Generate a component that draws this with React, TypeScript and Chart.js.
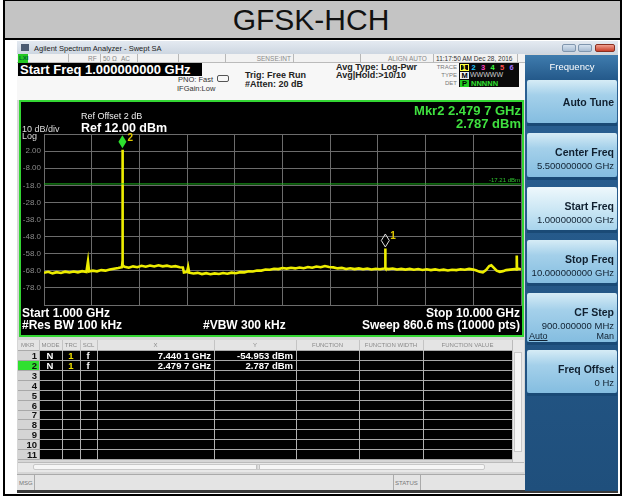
import React, { useEffect, useRef } from 'react';
import { Chart, registerables } from 'chart.js';
Chart.register(...registerables);

const FONT = '"Liberation Sans", Arial, sans-serif';

// ---------- data ----------
const FREQ_GRID_GHZ = [1, 1.9, 2.8, 3.7, 4.6, 5.5, 6.4, 7.3, 8.2, 9.1, 10];
const LEVEL_GRID_DBM = [12, 2, -8, -18, -28, -38, -48, -58, -68, -78, -88];

const TRACE_FREQ_GHZ = [
  1.0, 1.08, 1.16, 1.24, 1.32, 1.4, 1.48, 1.56, 1.64, 1.72, 1.8, 1.83, 1.85, 1.92, 2.0, 2.08, 2.16, 2.24, 2.32, 2.4,
  2.47, 2.478, 2.4797, 2.481, 2.49, 2.52, 2.6, 2.68, 2.76, 2.84, 2.92, 3.0, 3.08, 3.16, 3.24, 3.32, 3.4, 3.48, 3.56,
  3.62, 3.64, 3.7, 3.72, 3.74, 3.82, 3.9, 3.98, 4.06, 4.14, 4.22, 4.3, 4.38, 4.46, 4.54, 4.62, 4.7, 4.78, 4.86, 4.94,
  5.02, 5.1, 5.18, 5.26, 5.34, 5.42, 5.5, 5.58, 5.66, 5.74, 5.82, 5.9, 5.98, 6.06, 6.14, 6.22, 6.3, 6.38, 6.46, 6.54,
  6.62, 6.7, 6.78, 6.86, 6.94, 7.02, 7.1, 7.18, 7.26, 7.34, 7.42, 7.438, 7.4401, 7.442, 7.5, 7.58, 7.66, 7.74, 7.82,
  7.9, 7.98, 8.06, 8.14, 8.22, 8.3, 8.38, 8.46, 8.54, 8.62, 8.7, 8.78, 8.86, 8.94, 9.02, 9.1, 9.16, 9.22, 9.28, 9.34,
  9.4, 9.44, 9.48, 9.54, 9.6, 9.66, 9.72, 9.8, 9.88, 9.915, 9.92, 9.925, 9.96, 10.0,
];
const TRACE_LEVEL_DBM = [
  -69.2, -68.6, -69.5, -68.8, -69.3, -68.5, -69.0, -68.4, -68.9, -68.2, -68.7, -62.5, -68.4, -67.9, -68.3, -67.6, -67.9, -67.2, -66.8, -66.4,
  -65.9, -63.5, 2.787, -62.0, -64.8, -65.6, -66.2, -65.4, -65.9, -65.1, -65.6, -64.9, -65.5, -64.8, -65.4, -65.0, -65.6, -65.3, -65.9,
  -66.1, -69.0, -68.6, -65.8, -69.1, -69.6, -69.2, -69.9, -69.4, -70.0, -69.5, -69.9, -69.3, -69.7, -69.1, -69.4, -68.8, -68.9, -68.3, -68.4,
  -67.8, -67.9, -67.3, -67.4, -66.8, -67.0, -66.4, -66.7, -66.2, -66.6, -66.1, -66.5, -65.8, -66.2, -65.5, -65.9, -65.2, -65.8, -66.0, -66.6,
  -66.3, -66.9, -66.5, -67.0, -66.6, -67.1, -66.7, -67.2, -66.8, -67.1, -66.7, -66.5, -54.953, -66.6, -67.0, -66.7, -67.2, -66.9, -67.3,
  -66.9, -67.4, -67.0, -67.5, -67.1, -67.6, -67.2, -67.7, -67.3, -67.8, -67.4, -67.6, -67.1, -67.4, -66.9, -67.3, -67.8, -68.6, -68.9, -67.5,
  -65.2, -64.8, -66.0, -67.9, -68.6, -68.2, -67.6, -67.3, -67.0, -67.2, -59.0, -67.1, -66.8, -67.1,
];

const DISPLAY_LINE_DBM = -17.21;
const MARKER_IDS = ['1', '2'];
const MARKER_FREQ_GHZ = [7.4401, 2.4797];
const MARKER_LEVEL_DBM = [-54.953, 2.787];
const MARKER_X_TEXT = ['7.440 1 GHz', '2.479 7 GHz'];
const MARKER_Y_TEXT = ['-54.953 dBm', '2.787 dBm'];
const TABLE_ROWS = ['1', '2', '3', '4', '5', '6', '7', '8', '9', '10', '11'];
const TABLE_HEADERS = ['MKR', 'MODE', 'TRC', 'SCL', 'X', 'Y', 'FUNCTION', 'FUNCTION WIDTH', 'FUNCTION VALUE'];

const SOFTKEY_LABELS = ['Auto Tune', 'Center Freq', 'Start Freq', 'Stop Freq', 'CF Step', 'Freq Offset'];
const SOFTKEY_VALUES = ['', '5.500000000 GHz', '1.000000000 GHz', '10.000000000 GHz', '900.000000 MHz', '0 Hz'];

// ---------- layout helpers ----------
const W = 623;
type TP = { x: number; y: number; s: number; c?: string; w?: number; a?: 'left' | 'right' | 'center'; children?: any; st?: any };
const Txt = ({ x, y, s, c = '#000', w = 400, a = 'left', children, st }: TP) => {
  const h = Math.ceil(s * 1.4);
  const style: any = {
    position: 'absolute', top: y - h / 2, height: h, lineHeight: h + 'px', fontSize: s, fontFamily: FONT,
    fontWeight: w, color: c, whiteSpace: 'nowrap', ...st,
  };
  if (a === 'left') style.left = x;
  else if (a === 'right') style.right = W - x;
  else { style.left = x; style.transform = 'translateX(-50%)'; }
  return <div style={style}>{children}</div>;
};
const Box = ({ x, y, w, h, bg, st }: { x: number; y: number; w: number; h: number; bg?: string; st?: any }) => (
  <div style={{ position: 'absolute', left: x, top: y, width: w, height: h, background: bg, boxSizing: 'border-box', ...st }} />
);

const markerPlugin = {
  id: 'saMarkers',
  afterDatasetsDraw(chart: any) {
    const { ctx, chartArea } = chart;
    const xs = chart.scales.x, ys = chart.scales.y;
    ctx.save();
    const dy = ys.getPixelForValue(DISPLAY_LINE_DBM);
    ctx.font = `6px ${FONT}`;
    ctx.fillStyle = '#2fc22f';
    ctx.textAlign = 'right';
    ctx.textBaseline = 'bottom';
    ctx.fillText('-17.21 dBm', chartArea.right - 1, dy - 1);
    MARKER_FREQ_GHZ.forEach((f, i) => {
      const px = xs.getPixelForValue(f);
      const py = ys.getPixelForValue(MARKER_LEVEL_DBM[i]);
      const cy = py - 8;
      ctx.beginPath();
      ctx.moveTo(px, cy - 6.5);
      ctx.lineTo(px + 4, cy);
      ctx.lineTo(px, cy + 6.5);
      ctx.lineTo(px - 4, cy);
      ctx.closePath();
      if (i === 1) {
        ctx.fillStyle = '#2ee02e';
        ctx.fill();
      } else {
        ctx.strokeStyle = '#e0e0e0';
        ctx.lineWidth = 1;
        ctx.stroke();
      }
      ctx.font = `bold 10px ${FONT}`;
      ctx.fillStyle = '#e0c800';
      ctx.textAlign = 'left';
      ctx.textBaseline = 'middle';
      ctx.fillText(MARKER_IDS[i], px + 5, cy - 4);
    });
    ctx.restore();
  },
};

export default function App() {
  const ref = useRef<HTMLCanvasElement>(null);
  useEffect(() => {
    const trace = TRACE_FREQ_GHZ.map((f, i) => ({ x: f, y: TRACE_LEVEL_DBM[i] }));
    const dl = [
      { x: FREQ_GRID_GHZ[0], y: DISPLAY_LINE_DBM },
      { x: FREQ_GRID_GHZ[FREQ_GRID_GHZ.length - 1], y: DISPLAY_LINE_DBM },
    ];
    const grid = '#6c6c6c';
    const chart = new Chart(ref.current as HTMLCanvasElement, {
      type: 'line',
      data: {
        datasets: [
          { data: dl, borderColor: '#1fb81f', borderWidth: 1, pointRadius: 0, tension: 0 },
          { data: trace, borderColor: '#eded00', borderWidth: 2.6, pointRadius: 0, tension: 0 },
        ],
      },
      options: {
        animation: false,
        responsive: false,
        maintainAspectRatio: false,
        events: [],
        layout: { padding: { top: 32, bottom: 30, left: 0, right: 1 } },
        plugins: { legend: { display: false }, tooltip: { enabled: false }, title: { display: false } },
        scales: {
          x: {
            type: 'linear',
            min: FREQ_GRID_GHZ[0],
            max: FREQ_GRID_GHZ[FREQ_GRID_GHZ.length - 1],
            afterBuildTicks: (axis: any) => { axis.ticks = FREQ_GRID_GHZ.map((v) => ({ value: v })); },
            afterFit: (axis: any) => { axis.height = 0; },
            ticks: { display: false },
            grid: { color: grid, drawTicks: false },
            border: { color: grid },
          },
          y: {
            type: 'linear',
            min: LEVEL_GRID_DBM[LEVEL_GRID_DBM.length - 1],
            max: LEVEL_GRID_DBM[0],
            afterBuildTicks: (axis: any) => { axis.ticks = LEVEL_GRID_DBM.slice().reverse().map((v) => ({ value: v })); },
            afterFit: (axis: any) => { axis.width = 23; },
            ticks: {
              padding: 3,
              color: '#8a8a8a',
              font: { size: 8, family: FONT },
              callback: (v: any) => {
                const n = Number(v);
                if (n === LEVEL_GRID_DBM[0] || n === LEVEL_GRID_DBM[LEVEL_GRID_DBM.length - 1]) return '';
                return Math.abs(n) < 10 ? n.toFixed(2) : n.toFixed(1);
              },
            },
            grid: { color: grid, drawTicks: false },
            border: { color: grid },
          },
        },
      },
      plugins: [markerPlugin],
    } as any);
    return () => chart.destroy();
  }, []);

  const colX = [18, 39, 62, 80, 97, 214, 296, 359, 423, 512];
  const rowTop = 351;
  const rowH = 9.92;

  const keyTops = [80, 133, 187, 240, 293, 350];
  const keyH = [43, 44, 43, 43, 49, 43];

  return (
    <div style={{ position: 'absolute', left: 0, top: 0, width: W, height: 496, overflow: 'hidden', background: '#fff', fontFamily: FONT }}>
      {/* outer frame + title */}
      <Box x={3} y={0} w={619} h={38} bg="#c4c4c4" />
      <Box x={3} y={0} w={619} h={496} st={{ borderLeft: '2px solid #000', borderRight: '2px solid #000', borderBottom: '2px solid #000', borderTop: '1px solid #000' }} />
      <Box x={3} y={38} w={619} h={2} bg="#000" />
      <Txt x={311} y={20} s={30} a="center" c="#111">GFSK-HCH</Txt>

      {/* analyzer screenshot */}
      <Box x={17} y={41} w={601} h={452} bg="#d6d6d6" />
      <Box x={17} y={41} w={601} h={13} bg="linear-gradient(#e4eaf1,#cdd6e1)" />
      <Box x={21} y={44} w={8} h={7} bg="#4a5a70" />
      <Txt x={34} y={48} s={7.5} c="#222">Agilent Spectrum Analyzer - Swept SA</Txt>
      <Box x={562} y={44} w={14} h={8} bg="linear-gradient(#d6e2ef,#a9bdd3)" st={{ border: '1px solid #8096ae', borderRadius: 2 }} />
      <Box x={578} y={44} w={14} h={8} bg="linear-gradient(#d6e2ef,#a9bdd3)" st={{ border: '1px solid #8096ae', borderRadius: 2 }} />
      <Box x={595} y={44} w={20} h={8} bg="linear-gradient(#f0a090,#c9402a)" st={{ border: '1px solid #8a3020', borderRadius: 2 }} />

      {/* status row */}
      <Box x={17} y={54} w={508} h={9} bg="#f2f2f2" st={{ borderBottom: '1px solid #bbb' }} />
      <Box x={18} y={54} w={10} h={9} bg="#22c822" />
      <Txt x={19} y={58.5} s={6} c="#063" w={700}>LXI</Txt>
      {[68, 100, 137, 178, 225, 293, 360, 433, 517].map((x) => <Box key={x} x={x} y={54} w={1} h={9} bg="#b8b8b8" />)}
      <Txt x={88} y={58.5} s={6.5} c="#8a8a8a">RF</Txt>
      <Txt x={103} y={58.5} s={6.5} c="#8a8a8a">50 Ω</Txt>
      <Txt x={121} y={58.5} s={6.5} c="#8a8a8a">AC</Txt>
      <Txt x={291} y={58.5} s={6.5} c="#8a8a8a" a="right">SENSE:INT</Txt>
      <Txt x={388} y={58.5} s={6.5} c="#8a8a8a">ALIGN AUTO</Txt>
      <Txt x={436} y={58.5} s={6.5} c="#333">11:17:50 AM Dec 28, 2016</Txt>

      {/* settings area */}
      <Box x={17} y={63} w={508} h={37} bg="#f7f7f7" />
      <Box x={18} y={63} w={184} h={13} bg="#000" />
      <Txt x={20} y={69.5} s={13} w={700} c="#fff">Start Freq 1.000000000 GHz</Txt>
      <Txt x={213} y={79} s={7.5} c="#333" a="right">PNO: Fast</Txt>
      <Box x={217} y={75} w={12} h={7} st={{ border: '1px solid #555', borderRadius: 2 }} />
      <Txt x={177} y={88} s={7.5} c="#333">IFGain:Low</Txt>
      <Txt x={245} y={75} s={9} w={700} c="#222">Trig: Free Run</Txt>
      <Txt x={245} y={84.5} s={9} w={700} c="#222">#Atten: 20 dB</Txt>
      <Txt x={336} y={67} s={9} w={700} c="#222">Avg Type: Log-Pwr</Txt>
      <Txt x={336} y={75.5} s={9} w={700} c="#222">Avg|Hold:&gt;10/10</Txt>
      <Txt x={457} y={67} s={6} c="#777" a="right">TRACE</Txt>
      <Txt x={457} y={75} s={6} c="#777" a="right">TYPE</Txt>
      <Txt x={457} y={83} s={6} c="#777" a="right">DET</Txt>
      <Box x={459} y={63} w={60} h={24} bg="#0a0a0a" />
      <Box x={460} y={63.5} w={9} h={7.5} st={{ border: '1px solid #ffff40' }} />
      {['1', '2', '3', '4', '5', '6'].map((d, i) => (
        <Txt key={d} x={462 + i * 9.5} y={67.3} s={7.5} w={700} c={['#ffff30', '#20c8ff', '#ff40c0', '#40ff40', '#ff5050', '#a070ff'][i]}>{d}</Txt>
      ))}
      <Box x={460} y={71.5} w={9} h={7.5} bg="#eee" />
      <Txt x={461.5} y={75.3} s={7.5} w={700} c="#000">M</Txt>
      <Txt x={470} y={75.3} s={7} c="#ccc">WWWWW</Txt>
      <Box x={460} y={79.5} w={9} h={7.5} bg="#22cc22" />
      <Txt x={462} y={83.3} s={7.5} w={700} c="#000">P</Txt>
      <Txt x={471} y={83.3} s={7.5} w={700} c="#30e030">NNNNN</Txt>

      {/* trace window */}
      <Box x={19} y={100} w={505} h={237} bg="#000" st={{ border: '2px solid #33d633' }} />
      <canvas ref={ref} width={501} height={233} style={{ position: 'absolute', left: 21, top: 102, width: 501, height: 233 }} />
      <Txt x={81} y={116} s={9} c="#eee">Ref Offset 2 dB</Txt>
      <Txt x={22} y={129} s={9} c="#ddd">10 dB/div</Txt>
      <Txt x={81} y={127.5} s={12.5} w={700} c="#fff">Ref 12.00 dBm</Txt>
      <Txt x={22} y={136} s={9} c="#ddd">Log</Txt>
      <Txt x={521} y={110} s={13} w={700} c="#3fe03f" a="right">Mkr2 2.479 7 GHz</Txt>
      <Txt x={521} y={123} s={13} w={700} c="#3fe03f" a="right">2.787 dBm</Txt>
      <Txt x={22} y={313} s={12} w={700} c="#fff">Start 1.000 GHz</Txt>
      <Txt x={22} y={325.5} s={12} w={700} c="#fff">#Res BW 100 kHz</Txt>
      <Txt x={203} y={325.5} s={12} w={700} c="#fff">#VBW 300 kHz</Txt>
      <Txt x={520} y={313} s={12} w={700} c="#fff" a="right">Stop 10.000 GHz</Txt>
      <Txt x={520} y={325.5} s={12} w={700} c="#fff" a="right">Sweep  860.6 ms (10000 pts)</Txt>

      {/* marker table */}
      <Box x={18} y={340} w={506} h={11} bg="#e4e4e4" st={{ borderBottom: '1px solid #aaa' }} />
      {TABLE_HEADERS.map((t, i) => (
        <Txt key={t} x={i === 0 ? 21 : (colX[i] + colX[i + 1]) / 2} y={345.5} s={6} c="#8a8a8a" a={i === 0 ? 'left' : 'center'}>{t}</Txt>
      ))}
      {colX.slice(1, -1).map((x) => <Box key={'h' + x} x={x} y={340} w={1} h={11} bg="#c4c4c4" />)}
      <Box x={18} y={rowTop} w={21} h={rowH * 11} bg="#d4d4d4" />
      <Box x={39} y={rowTop} w={473} h={rowH * 11} bg="#000" />
      {TABLE_ROWS.map((r, i) => (
        <React.Fragment key={r}>
          {i === 1 && <Box x={18} y={rowTop + i * rowH} w={21} h={rowH} bg="#30e030" />}
          <Txt x={37} y={rowTop + i * rowH + rowH / 2} s={9.5} w={700} c="#111" a="right">{r}</Txt>
          <Box x={18} y={rowTop + (i + 1) * rowH - 1} w={494} h={1} bg="#a8a8a8" />
        </React.Fragment>
      ))}
      {colX.slice(1, -1).map((x) => <Box key={'v' + x} x={x} y={rowTop} w={1} h={rowH * 11} bg="#b0b0b0" />)}
      {MARKER_X_TEXT.map((t, i) => (
        <React.Fragment key={t}>
          <Txt x={50} y={rowTop + i * rowH + rowH / 2} s={9.5} w={700} c="#fff" a="center">N</Txt>
          <Txt x={71} y={rowTop + i * rowH + rowH / 2} s={9.5} w={700} c="#f0e000" a="center">{MARKER_IDS[0]}</Txt>
          <Txt x={88} y={rowTop + i * rowH + rowH / 2} s={9.5} w={700} c="#fff" a="center">f</Txt>
          <Txt x={211} y={rowTop + i * rowH + rowH / 2} s={9.5} w={700} c="#fff" a="right">{t}</Txt>
          <Txt x={293} y={rowTop + i * rowH + rowH / 2} s={9.5} w={700} c="#fff" a="right">{MARKER_Y_TEXT[i]}</Txt>
        </React.Fragment>
      ))}
      <Box x={512} y={340} w={12} h={122} bg="#e8e8e8" st={{ borderLeft: '1px solid #bbb' }} />
      <Box x={514} y={352} w={8} h={100} bg="#f6f6f6" st={{ border: '1px solid #c8c8c8' }} />
      <Box x={18} y={462} w={506} h={10} bg="#e8e8e8" st={{ borderTop: '1px solid #bbb' }} />
      <Box x={33} y={464} w={452} h={6} bg="#f6f6f6" st={{ border: '1px solid #c8c8c8', borderRadius: 2 }} />
      <Txt x={258} y={467} s={5} c="#888" a="center">III</Txt>

      {/* msg bar */}
      <Box x={17} y={474} w={601} h={17} bg="#e4e4e4" st={{ borderTop: '1px solid #aaa' }} />
      <Box x={34} y={475} w={1} h={15} bg="#aaa" />
      <Box x={393} y={475} w={1} h={15} bg="#aaa" />
      <Box x={420} y={475} w={1} h={15} bg="#aaa" />
      <Txt x={19} y={483} s={6} c="#777">MSG</Txt>
      <Txt x={395} y={483} s={6} c="#777">STATUS</Txt>
      <Box x={17} y={490} w={601} h={3} bg="#3a3a3a" />

      {/* softkey panel */}
      <Box x={525} y={55} w={93} h={436} bg="linear-gradient(#2a6194,#1f4f7c)" />
      <Box x={525} y={55} w={93} h={25} bg="linear-gradient(#3f7cae,#24598a)" />
      <Txt x={572} y={67} s={9.5} c="#fff" a="center">Frequency</Txt>
      {SOFTKEY_LABELS.map((lab, i) => {
        const top = keyTops[i];
        const h = keyH[i];
        const sel = i === 2;
        const val = SOFTKEY_VALUES[i];
        return (
          <React.Fragment key={lab}>
            <Box x={527} y={top} w={90} h={h} bg={sel ? 'linear-gradient(#eef8fc,#c6e4f3 60%,#a8d4ec)' : 'linear-gradient(#d6ecf6,#a4d0ea 35%,#84bde0 100%)'} st={{ borderRadius: 2 }} />
            <Box x={527} y={top + h} w={90} h={3} bg="#1a4a76" />
            <Txt x={614} y={val ? top + 19 : top + h / 2 + 1} s={10.5} w={700} c="#102030" a="right">{lab}</Txt>
            {val && <Txt x={614} y={top + 33} s={9.5} c="#102030" a="right">{val}</Txt>}
            {i === 4 && (
              <>
                <Txt x={529} y={top + 43} s={9} c="#102030" st={{ textDecoration: 'underline' }}>Auto</Txt>
                <Txt x={614} y={top + 43} s={9} c="#102030" a="right">Man</Txt>
              </>
            )}
          </React.Fragment>
        );
      })}
    </div>
  );
}
